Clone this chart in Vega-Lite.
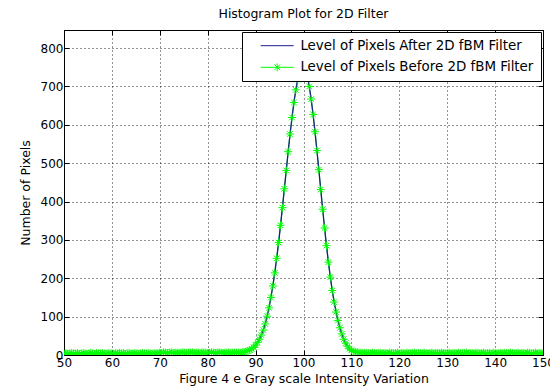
{
  "$schema": "https://vega.github.io/schema/vega-lite/v6.json",
  "autosize": {"type": "none"},
  "padding": {"left": 64, "top": 30, "right": 7, "bottom": 36},
  "width": 479,
  "height": 325,
  "background": "white",
  "title": {"text": "Histogram Plot for 2D Filter", "fontSize": 12.5, "fontWeight": "normal", "font": "DejaVu Sans", "color": "black", "offset": 9, "anchor": "middle", "frame": "group"},
  "config": {
    "font": "DejaVu Sans",
    "view": {"stroke": "black", "strokeWidth": 1},
    "axis": {"labelFont": "DejaVu Sans", "labelFontSize": 12, "labelColor": "black", "titleFont": "DejaVu Sans", "titleFontSize": 12.5, "titleFontWeight": "normal", "titleColor": "black", "tickColor": "black", "domainColor": "black", "gridColor": "black", "gridDash": [1, 3], "gridOpacity": 0.85, "gridWidth": 1}
  },
  "data": {"values": [
    {"x":50,"y":4},{"x":50.4,"y":5},{"x":50.8,"y":3},{"x":51.2,"y":4},{"x":51.6,"y":5},{"x":52,"y":4},{"x":52.4,"y":4},{"x":52.8,"y":5},{"x":53.2,"y":3},{"x":53.6,"y":4},
    {"x":54,"y":5},{"x":54.4,"y":4},{"x":54.8,"y":3},{"x":55.2,"y":4},{"x":55.6,"y":6},{"x":56,"y":4},{"x":56.4,"y":3},{"x":56.8,"y":5},{"x":57.2,"y":4},{"x":57.6,"y":4},
    {"x":58,"y":5},{"x":58.4,"y":4},{"x":58.8,"y":3},{"x":59.2,"y":5},{"x":59.6,"y":4},{"x":60,"y":4},{"x":60.4,"y":3},{"x":60.8,"y":5},{"x":61.2,"y":4},{"x":61.6,"y":5},
    {"x":62,"y":4},{"x":62.4,"y":5},{"x":62.8,"y":3},{"x":63.2,"y":4},{"x":63.6,"y":5},{"x":64,"y":4},{"x":64.4,"y":4},{"x":64.8,"y":5},{"x":65.2,"y":4},{"x":65.6,"y":3},
    {"x":66,"y":4},{"x":66.4,"y":5},{"x":66.8,"y":4},{"x":67.2,"y":4},{"x":67.6,"y":5},{"x":68,"y":4},{"x":68.4,"y":3},{"x":68.8,"y":5},{"x":69.2,"y":4},{"x":69.6,"y":5},
    {"x":70,"y":6},{"x":70.4,"y":5},{"x":70.8,"y":7},{"x":71.2,"y":6},{"x":71.6,"y":5},{"x":72,"y":6},{"x":72.4,"y":7},{"x":72.8,"y":5},{"x":73.2,"y":6},{"x":73.6,"y":6},
    {"x":74,"y":5},{"x":74.4,"y":6},{"x":74.8,"y":7},{"x":75.2,"y":6},{"x":75.6,"y":5},{"x":76,"y":6},{"x":76.4,"y":6},{"x":76.8,"y":7},{"x":77.2,"y":5},{"x":77.6,"y":6},
    {"x":78,"y":6},{"x":78.4,"y":5},{"x":78.8,"y":7},{"x":79.2,"y":6},{"x":79.6,"y":6},{"x":80,"y":5},{"x":80.4,"y":6},{"x":80.8,"y":7},{"x":81.2,"y":6},{"x":81.6,"y":5},
    {"x":82,"y":6},{"x":82.4,"y":7},{"x":82.8,"y":6},{"x":83.2,"y":5},{"x":83.6,"y":6},{"x":84,"y":6},{"x":84.4,"y":7},{"x":84.8,"y":5},{"x":85.2,"y":6},{"x":85.6,"y":6},
    {"x":86,"y":6},{"x":86.4,"y":6},{"x":86.8,"y":6},{"x":87.2,"y":7},{"x":87.6,"y":8},{"x":88,"y":9},{"x":88.4,"y":11},{"x":88.8,"y":13},{"x":89.2,"y":16},{"x":89.6,"y":20},
    {"x":90,"y":26},{"x":90.4,"y":33},{"x":90.8,"y":41},{"x":91.2,"y":52},{"x":91.6,"y":65},{"x":92,"y":81},{"x":92.4,"y":101},{"x":92.8,"y":123},{"x":93.2,"y":150},{"x":93.6,"y":180},
    {"x":94,"y":214},{"x":94.4,"y":252},{"x":94.8,"y":293},{"x":95.2,"y":338},{"x":95.6,"y":384},{"x":96,"y":433},{"x":96.4,"y":481},{"x":96.8,"y":530},{"x":97.2,"y":576},{"x":97.6,"y":619},
    {"x":98,"y":658},{"x":98.4,"y":691},{"x":98.8,"y":718},{"x":99.2,"y":737},{"x":99.6,"y":748},{"x":100,"y":750},{"x":100.4,"y":742},{"x":100.8,"y":726},{"x":101.2,"y":700},{"x":101.6,"y":667},
    {"x":102,"y":627},{"x":102.4,"y":582},{"x":102.8,"y":533},{"x":103.2,"y":483},{"x":103.6,"y":431},{"x":104,"y":380},{"x":104.4,"y":331},{"x":104.8,"y":285},{"x":105.2,"y":242},{"x":105.6,"y":203},
    {"x":106,"y":168},{"x":106.4,"y":138},{"x":106.8,"y":112},{"x":107.2,"y":90},{"x":107.6,"y":71},{"x":108,"y":55},{"x":108.4,"y":41},{"x":108.8,"y":31},{"x":109.2,"y":23},{"x":109.6,"y":16},
    {"x":110,"y":12},{"x":110.4,"y":9},{"x":110.8,"y":8},{"x":111.2,"y":7},{"x":111.6,"y":6},{"x":112,"y":6},{"x":112.4,"y":5},{"x":112.8,"y":6},{"x":113.2,"y":5},{"x":113.6,"y":5},
    {"x":114,"y":4},{"x":114.4,"y":6},{"x":114.8,"y":5},{"x":115.2,"y":4},{"x":115.6,"y":5},{"x":116,"y":6},{"x":116.4,"y":4},{"x":116.8,"y":5},{"x":117.2,"y":5},{"x":117.6,"y":4},
    {"x":118,"y":6},{"x":118.4,"y":5},{"x":118.8,"y":4},{"x":119.2,"y":5},{"x":119.6,"y":6},{"x":120,"y":4},{"x":120.4,"y":5},{"x":120.8,"y":5},{"x":121.2,"y":4},{"x":121.6,"y":6},
    {"x":122,"y":5},{"x":122.4,"y":4},{"x":122.8,"y":5},{"x":123.2,"y":6},{"x":123.6,"y":4},{"x":124,"y":5},{"x":124.4,"y":5},{"x":124.8,"y":4},{"x":125.2,"y":6},{"x":125.6,"y":5},
    {"x":126,"y":4},{"x":126.4,"y":5},{"x":126.8,"y":6},{"x":127.2,"y":4},{"x":127.6,"y":5},{"x":128,"y":5},{"x":128.4,"y":4},{"x":128.8,"y":6},{"x":129.2,"y":5},{"x":129.6,"y":4},
    {"x":130,"y":5},{"x":130.4,"y":6},{"x":130.8,"y":4},{"x":131.2,"y":5},{"x":131.6,"y":5},{"x":132,"y":4},{"x":132.4,"y":6},{"x":132.8,"y":5},{"x":133.2,"y":4},{"x":133.6,"y":5},
    {"x":134,"y":6},{"x":134.4,"y":4},{"x":134.8,"y":5},{"x":135.2,"y":5},{"x":135.6,"y":4},{"x":136,"y":6},{"x":136.4,"y":5},{"x":136.8,"y":4},{"x":137.2,"y":5},{"x":137.6,"y":6},
    {"x":138,"y":4},{"x":138.4,"y":5},{"x":138.8,"y":5},{"x":139.2,"y":4},{"x":139.6,"y":6},{"x":140,"y":5},{"x":140.4,"y":4},{"x":140.8,"y":5},{"x":141.2,"y":6},{"x":141.6,"y":4},
    {"x":142,"y":5},{"x":142.4,"y":5},{"x":142.8,"y":4},{"x":143.2,"y":6},{"x":143.6,"y":5},{"x":144,"y":4},{"x":144.4,"y":5},{"x":144.8,"y":6},{"x":145.2,"y":4},{"x":145.6,"y":5},
    {"x":146,"y":5},{"x":146.4,"y":4},{"x":146.8,"y":6},{"x":147.2,"y":5},{"x":147.6,"y":4},{"x":148,"y":5},{"x":148.4,"y":6},{"x":148.8,"y":4},{"x":149.2,"y":5},{"x":149.6,"y":5},
    {"x":150,"y":4}
  ]},
  "layer": [
    {
      "mark": {"type": "line", "strokeWidth": 1, "clip": true},
      "encoding": {
        "x": {"field": "x", "type": "quantitative", "scale": {"domain": [50, 150], "nice": false, "zero": false},
          "axis": {"title": "Figure 4 e Gray scale Intensity Variation", "values": [50,60,70,80,90,100,110,120,130,140,150], "grid": true, "domain": false, "tickSize": -5, "labelPadding": 7, "labelFlush": false, "labelOverlap": false, "titlePadding": 4}},
        "y": {"field": "y", "type": "quantitative", "scale": {"domain": [0, 847], "nice": false, "zero": true},
          "axis": {"title": "Number of Pixels", "values": [0,100,200,300,400,500,600,700,800], "grid": true, "domain": false, "tickSize": -5, "labelPadding": 6, "labelFlush": false, "labelOverlap": false, "titlePadding": 8}},
        "color": {"datum": "Before", "type": "nominal",
          "scale": {"domain": ["After", "Before"], "range": ["#1c1c8e", "#00ff00"]},
          "legend": {"title": null, "orient": "top-right", "offset": 2, "fillColor": "white", "strokeColor": "black", "padding": 7,
            "labelFont": "DejaVu Sans", "labelFontSize": 13.4, "labelColor": "black", "labelLimit": 400, "symbolSize": 100, "symbolOffset": 21.5, "labelOffset": 16.5, "rowPadding": 6.6, "symbolStrokeWidth": 1, "symbolFillColor": "transparent",
            "labelExpr": "datum.value == 'After' ? 'Level of Pixels After 2D fBM Filter' : 'Level of Pixels Before 2D fBM Filter'",
            "encode": {"symbols": {"update": {"shape": {"signal": "datum.value == 'Before' ? 'M-3.3,0L3.3,0M0,-0.8L0,0.8M-0.56,-0.56L0.56,0.56M-0.56,0.56L0.56,-0.56' : 'M-3.3,0L3.3,0'"}, "fill": {"value": "transparent"}, "strokeWidth": {"value": 1}}}}}}
      }
    },
    {
      "mark": {"type": "line", "strokeWidth": 1.3, "clip": true},
      "encoding": {
        "x": {"field": "x", "type": "quantitative", "axis": null},
        "y": {"field": "y", "type": "quantitative", "axis": null},
        "color": {"datum": "After", "type": "nominal"}
      }
    },
    {
      "mark": {"type": "point", "shape": "M-1,0L1,0M0,-1L0,1M-0.7,-0.7L0.7,0.7M-0.7,0.7L0.7,-0.7", "filled": false, "size": 64, "strokeWidth": 1, "opacity": 1, "clip": true},
      "encoding": {
        "x": {"field": "x", "type": "quantitative", "axis": null},
        "y": {"field": "y", "type": "quantitative", "axis": null},
        "color": {"datum": "Before", "type": "nominal"}
      }
    },
    {
      "mark": {"type": "point", "opacity": 0},
      "encoding": {
        "x": {"field": "x", "type": "quantitative", "axis": {"orient": "top", "title": null, "labels": false, "grid": false, "domain": false, "tickSize": -5, "values": [50,60,70,80,90,100,110,120,130,140,150]}},
        "y": {"field": "y", "type": "quantitative", "axis": {"orient": "right", "title": null, "labels": false, "grid": false, "domain": false, "tickSize": -5, "values": [0,100,200,300,400,500,600,700,800]}}
      }
    }
  ],
  "resolve": {"axis": {"x": "independent", "y": "independent"}}
}
